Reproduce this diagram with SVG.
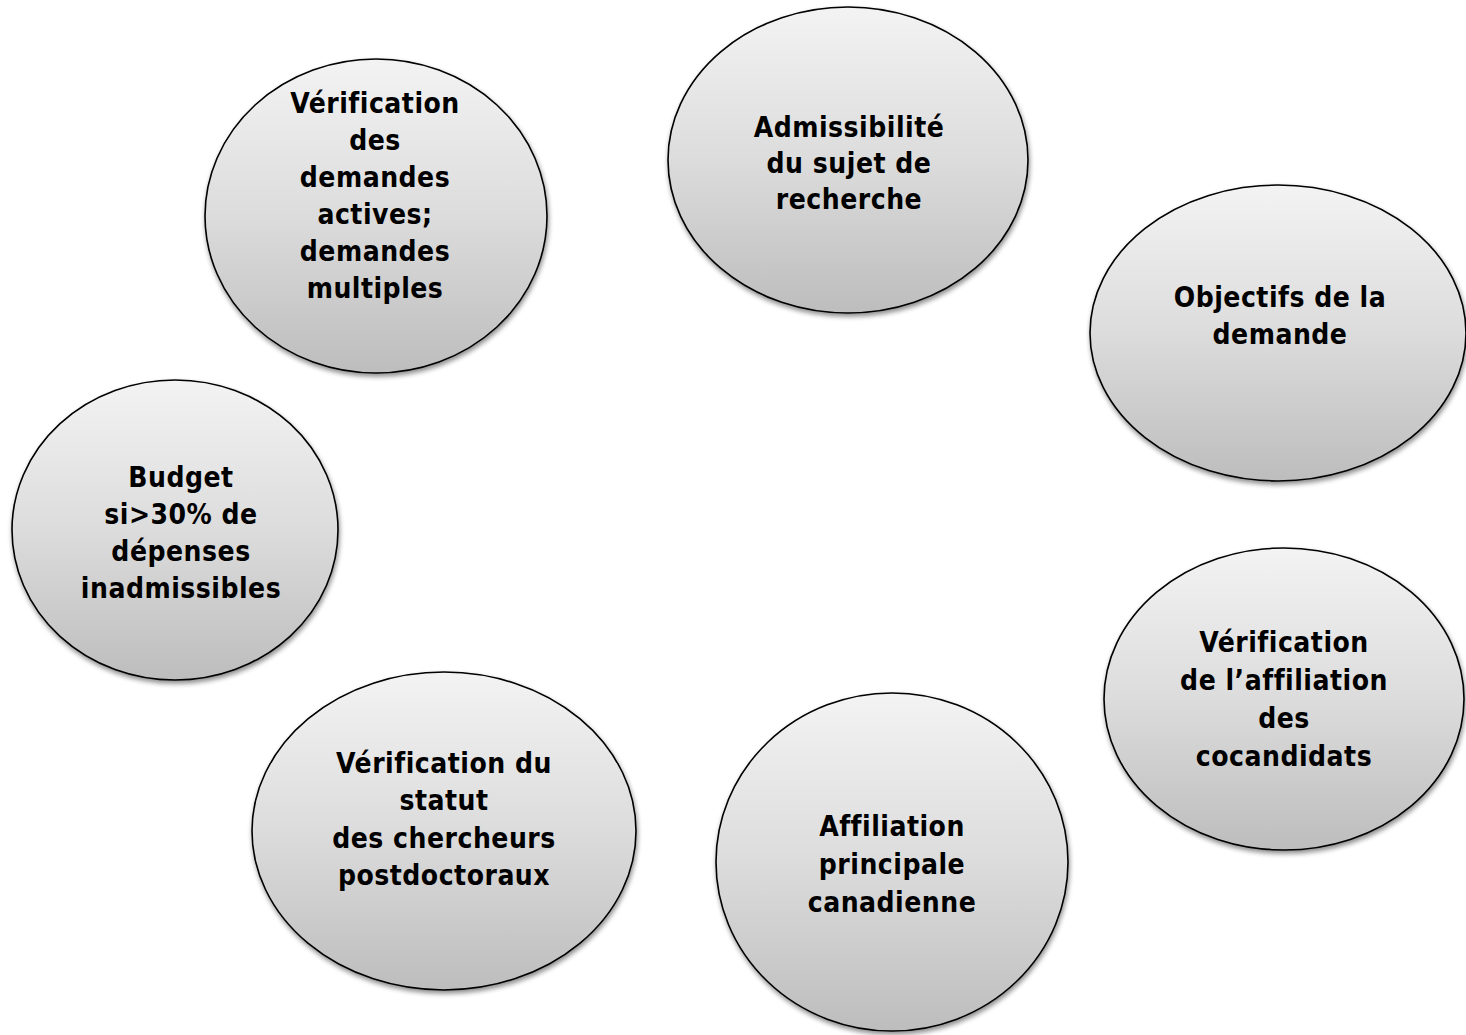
<svg xmlns="http://www.w3.org/2000/svg" width="1466" height="1035" viewBox="0 0 1466 1035">
<style>
.node ellipse{fill:url(#g);stroke:#000;stroke-width:1.6;filter:url(#sh)}
.node text{font-family:"DejaVu Sans Condensed","DejaVu Sans",sans-serif;font-stretch:condensed;font-weight:bold;font-size:28px;letter-spacing:0.5px;fill:#000;text-anchor:middle}
</style>
<defs>
<linearGradient id="g" x1="0" y1="0" x2="0" y2="1">
<stop offset="0" stop-color="#f3f3f3"/>
<stop offset="0.5" stop-color="#dcdcdc"/>
<stop offset="1" stop-color="#bdbdbd"/>
</linearGradient>
<filter id="sh" x="-10%" y="-10%" width="125%" height="125%">
<feGaussianBlur in="SourceAlpha" stdDeviation="2.5"/>
<feOffset dx="1" dy="3" result="b"/>
<feComponentTransfer><feFuncA type="linear" slope="0.45"/></feComponentTransfer>
<feMerge><feMergeNode/><feMergeNode in="SourceGraphic"/></feMerge>
</filter>
</defs>
<rect width="1466" height="1035" fill="#fff"/>
<g id="connectors"/>
<g id="n-demandes" class="node">
<ellipse cx="376" cy="216" rx="171" ry="157"/>
<text x="375" y="113">Vérification</text>
<text x="375" y="150">des</text>
<text x="375" y="187">demandes</text>
<text x="375" y="224">actives;</text>
<text x="375" y="261">demandes</text>
<text x="375" y="298">multiples</text>
</g>
<g id="n-admissibilite" class="node">
<ellipse cx="848" cy="160" rx="180" ry="153"/>
<text x="849" y="137">Admissibilité</text>
<text x="849" y="173">du sujet de</text>
<text x="849" y="209">recherche</text>
</g>
<g id="n-objectifs" class="node">
<ellipse cx="1278" cy="333" rx="188" ry="148"/>
<text x="1280" y="307">Objectifs de la</text>
<text x="1280" y="344">demande</text>
</g>
<g id="n-budget" class="node">
<ellipse cx="175" cy="530" rx="163" ry="150"/>
<text x="181" y="487">Budget</text>
<text x="181" y="524">si&gt;30% de</text>
<text x="181" y="561">dépenses</text>
<text x="181" y="598">inadmissibles</text>
</g>
<g id="n-cocandidats" class="node">
<ellipse cx="1284" cy="699" rx="180" ry="151"/>
<text x="1284" y="652">Vérification</text>
<text x="1284" y="690">de l’affiliation</text>
<text x="1284" y="728">des</text>
<text x="1284" y="766">cocandidats</text>
</g>
<g id="n-postdoc" class="node">
<ellipse cx="444" cy="831" rx="192" ry="159"/>
<text x="444" y="773">Vérification du</text>
<text x="444" y="810">statut</text>
<text x="444" y="848">des chercheurs</text>
<text x="444" y="885">postdoctoraux</text>
</g>
<g id="n-affiliation" class="node">
<ellipse cx="892" cy="862" rx="176" ry="169"/>
<text x="892" y="836">Affiliation</text>
<text x="892" y="874">principale</text>
<text x="892" y="912">canadienne</text>
</g>
</svg>
